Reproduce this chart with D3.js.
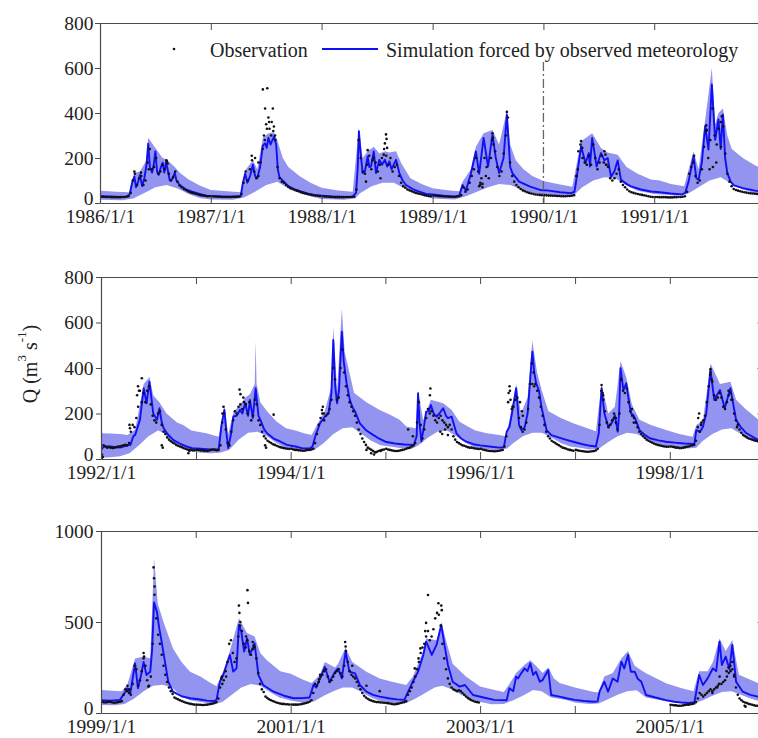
<!DOCTYPE html>
<html>
<head>
<meta charset="utf-8">
<script src="https://cdn.jsdelivr.net/npm/d3@7"></script>
<style>
  body { margin: 0; background: #fff; }
  svg { display: block; }
  svg text { font-family: "Liberation Serif", "Tinos", "Times New Roman", "DejaVu Serif", serif !important; fill: #222; }
</style>
</head>
<body>
<svg id="chart" width="758" height="738"></svg>
<script>
// ---------------- data ----------------
// time is given as decimal year (e.g. 1986.5 = early July 1986); discharge Q in m3/s

const yTicksA = [0, 200, 400, 600, 800];
const yTicksB = [0, 200, 400, 600, 800];
const yTicksC = [0, 500, 1000];

// simulation forced by observed meteorology, 1986-1991
const simA = [
[1986.00,30],[1986.08,29],[1986.16,27],[1986.24,28],[1986.27,40],[1986.29,90],[1986.31,118],[1986.325,70],[1986.345,95],[1986.36,125],[1986.38,75],[1986.40,110],[1986.42,170],[1986.435,264],[1986.45,160],[1986.47,135],[1986.485,170],[1986.50,229],[1986.515,140],[1986.53,125],[1986.55,160],[1986.565,179],[1986.58,135],[1986.595,180],[1986.61,150],[1986.63,100],[1986.65,105],[1986.675,135],[1986.69,100],[1986.72,80],[1986.77,62],[1986.83,50],[1986.90,40],[1986.96,33],
[1987.00,31],[1987.10,29],[1987.20,28],[1987.27,30],[1987.29,90],[1987.31,130],[1987.33,90],[1987.355,120],[1987.38,170],[1987.40,120],[1987.42,110],[1987.445,160],[1987.47,255],[1987.49,265],[1987.505,245],[1987.52,290],[1987.54,260],[1987.57,295],[1987.59,260],[1987.605,150],[1987.62,115],[1987.66,95],[1987.70,75],[1987.76,60],[1987.82,50],[1987.88,42],[1987.94,35],
[1988.00,33],[1988.10,29],[1988.20,27],[1988.28,28],[1988.31,45],[1988.325,150],[1988.336,319],[1988.35,230],[1988.37,133],[1988.39,140],[1988.415,207],[1988.43,160],[1988.445,162],[1988.47,229],[1988.49,133],[1988.52,192],[1988.545,170],[1988.57,192],[1988.59,162],[1988.61,185],[1988.63,150],[1988.67,192],[1988.70,133],[1988.73,100],[1988.76,80],[1988.82,62],[1988.88,51],[1988.94,40],
[1989.00,38],[1989.10,32],[1989.20,28],[1989.24,32],[1989.27,80],[1989.30,55],[1989.345,130],[1989.39,229],[1989.42,130],[1989.46,289],[1989.50,162],[1989.54,304],[1989.57,200],[1989.60,133],[1989.64,200],[1989.67,393],[1989.70,160],[1989.72,133],[1989.78,95],[1989.88,73],[1989.97,58],
[1990.05,55],[1990.15,48],[1990.25,44],[1990.28,50],[1990.29,80],[1990.31,147],[1990.34,252],[1990.38,177],[1990.41,222],[1990.42,162],[1990.44,289],[1990.48,162],[1990.52,222],[1990.55,190],[1990.58,200],[1990.61,117],[1990.64,140],[1990.67,189],[1990.70,103],[1990.75,85],[1990.79,74],[1990.88,60],[1990.97,51],
[1991.05,48],[1991.15,42],[1991.25,38],[1991.28,45],[1991.31,95],[1991.355,207],[1991.38,110],[1991.40,103],[1991.43,180],[1991.46,341],[1991.49,237],[1991.52,527],[1991.55,281],[1991.58,371],[1991.60,240],[1991.62,393],[1991.64,200],[1991.66,133],[1991.69,95],[1991.72,78],[1991.80,66],[1991.90,56],[1991.97,50],[1992.00,48]
];
// upper and lower edges of the simulation uncertainty band, 1986-1991
const hiA = [
[1986.00,55],[1986.15,50],[1986.26,48],[1986.31,135],[1986.36,140],[1986.42,190],[1986.435,290],[1986.50,245],[1986.565,200],[1986.60,195],[1986.675,160],[1986.72,135],[1986.80,105],[1986.90,78],
[1987.00,58],[1987.15,52],[1987.27,48],[1987.31,145],[1987.38,190],[1987.42,150],[1987.47,290],[1987.52,310],[1987.57,315],[1987.60,280],[1987.65,200],[1987.70,160],[1987.80,120],[1987.90,90],
[1988.00,68],[1988.15,56],[1988.28,50],[1988.336,335],[1988.37,200],[1988.415,230],[1988.47,250],[1988.52,220],[1988.57,230],[1988.61,225],[1988.67,230],[1988.72,175],[1988.80,110],[1988.90,85],
[1989.00,66],[1989.15,56],[1989.24,52],[1989.27,95],[1989.345,150],[1989.39,250],[1989.46,310],[1989.54,325],[1989.60,260],[1989.67,410],[1989.70,260],[1989.75,190],[1989.82,150],[1989.90,120],
[1990.00,98],[1990.15,82],[1990.26,72],[1990.34,275],[1990.44,310],[1990.52,245],[1990.58,225],[1990.67,215],[1990.75,160],[1990.85,130],[1990.97,105],
[1991.05,100],[1991.15,85],[1991.27,75],[1991.355,230],[1991.40,150],[1991.46,370],[1991.52,600],[1991.55,350],[1991.58,400],[1991.62,420],[1991.66,300],[1991.70,240],[1991.80,200],[1991.92,165],[1992.00,150]
];
const loA = [
[1986.00,14],[1986.20,12],[1986.30,20],[1986.40,45],[1986.50,70],[1986.60,80],[1986.70,65],[1986.80,40],[1986.90,22],
[1987.00,16],[1987.20,14],[1987.30,25],[1987.40,50],[1987.50,80],[1987.60,95],[1987.70,65],[1987.80,45],[1987.90,30],
[1988.00,18],[1988.20,14],[1988.30,20],[1988.35,45],[1988.45,75],[1988.55,90],[1988.65,90],[1988.75,65],[1988.85,40],
[1989.00,20],[1989.20,16],[1989.30,30],[1989.40,50],[1989.50,70],[1989.60,85],[1989.70,80],[1989.80,60],[1989.90,45],
[1990.00,36],[1990.15,30],[1990.27,32],[1990.35,70],[1990.45,100],[1990.55,115],[1990.65,110],[1990.75,78],[1990.85,55],
[1991.00,40],[1991.20,33],[1991.30,40],[1991.40,70],[1991.50,100],[1991.60,115],[1991.70,85],[1991.80,60],[1991.90,45],[1992.00,40]
];

// simulation, 1992-1998
const simB = [
[1992.00,40],[1992.03,55],[1992.10,55],[1992.20,50],[1992.28,60],[1992.31,62],[1992.34,100],[1992.36,106],[1992.41,172],[1992.45,311],[1992.48,245],[1992.51,340],[1992.55,200],[1992.59,172],[1992.615,223],[1992.64,160],[1992.66,135],[1992.70,110],[1992.76,84],[1992.83,68],[1992.90,55],[1992.96,48],
[1993.05,45],[1993.15,42],[1993.24,42],[1993.27,150],[1993.30,216],[1993.32,120],[1993.34,48],[1993.37,110],[1993.395,187],[1993.43,190],[1993.465,216],[1993.49,200],[1993.52,245],[1993.55,190],[1993.57,260],[1993.60,180],[1993.63,311],[1993.66,190],[1993.68,172],[1993.72,130],[1993.75,113],[1993.82,90],[1993.89,77],[1993.96,62],
[1994.05,55],[1994.12,48],[1994.20,46],[1994.23,55],[1994.26,100],[1994.31,157],[1994.36,186],[1994.40,200],[1994.43,290],[1994.45,523],[1994.47,320],[1994.49,245],[1994.51,300],[1994.54,560],[1994.56,430],[1994.59,333],[1994.625,259],[1994.65,230],[1994.68,208],[1994.73,157],[1994.80,125],[1994.87,106],[1994.94,88],
[1995.00,76],[1995.10,68],[1995.20,64],[1995.30,62],[1995.33,100],[1995.345,289],[1995.36,160],[1995.38,77],[1995.41,150],[1995.43,208],[1995.46,210],[1995.48,237],[1995.51,200],[1995.54,186],[1995.57,200],[1995.61,223],[1995.64,190],[1995.66,180],[1995.70,186],[1995.75,113],[1995.80,90],[1995.855,76],[1995.93,65],
[1996.00,60],[1996.10,55],[1996.20,50],[1996.25,52],[1996.28,120],[1996.31,142],[1996.335,200],[1996.38,311],[1996.41,150],[1996.435,127],[1996.47,140],[1996.50,200],[1996.55,472],[1996.57,380],[1996.59,333],[1996.62,300],[1996.645,230],[1996.70,127],[1996.75,105],[1996.80,98],[1996.90,85],[1996.98,76],
[1997.08,65],[1997.16,58],[1997.22,55],[1997.25,113],[1997.28,311],[1997.31,200],[1997.35,142],[1997.39,160],[1997.42,193],[1997.45,120],[1997.465,200],[1997.48,399],[1997.51,303],[1997.54,333],[1997.57,250],[1997.59,201],[1997.62,190],[1997.64,172],[1997.68,127],[1997.74,105],[1997.79,91],[1997.88,82],[1997.96,76],
[1998.05,72],[1998.15,68],[1998.26,66],[1998.28,127],[1998.32,120],[1998.35,142],[1998.385,201],[1998.43,391],[1998.47,259],[1998.53,303],[1998.58,223],[1998.64,311],[1998.70,172],[1998.75,140],[1998.81,113],[1998.93,84],[1999.00,78]
];
const hiB = [
[1992.00,113],[1992.10,112],[1992.20,110],[1992.28,105],[1992.36,130],[1992.45,330],[1992.51,360],[1992.55,280],[1992.615,250],[1992.69,200],[1992.80,160],[1992.87,148],[1992.95,125],
[1993.11,113],[1993.24,98],[1993.30,240],[1993.34,110],[1993.40,210],[1993.47,240],[1993.52,270],[1993.57,285],[1993.62,330],[1993.63,520],[1993.64,330],[1993.68,250],[1993.75,210],[1993.85,165],[1993.95,135],
[1994.05,125],[1994.15,112],[1994.22,105],[1994.31,175],[1994.36,210],[1994.43,320],[1994.45,580],[1994.49,300],[1994.54,660],[1994.57,470],[1994.62,380],[1994.67,290],[1994.80,250],[1994.94,215],
[1995.05,195],[1995.15,172],[1995.22,143],[1995.32,135],[1995.345,300],[1995.40,170],[1995.48,260],[1995.61,245],[1995.70,215],[1995.78,165],[1995.86,145],[1995.95,125],
[1996.07,113],[1996.20,105],[1996.27,100],[1996.31,170],[1996.38,330],[1996.43,200],[1996.50,270],[1996.55,520],[1996.60,380],[1996.65,300],[1996.72,210],[1996.85,180],[1996.98,157],
[1997.10,140],[1997.22,122],[1997.28,330],[1997.35,200],[1997.42,230],[1997.48,430],[1997.54,360],[1997.60,240],[1997.68,172],[1997.80,150],[1997.96,127],
[1998.10,110],[1998.24,98],[1998.28,150],[1998.35,170],[1998.43,420],[1998.53,330],[1998.64,340],[1998.70,260],[1998.80,220],[1998.93,175],[1999.00,165]
];
const loB = [
[1992.00,5],[1992.10,8],[1992.20,12],[1992.30,25],[1992.40,60],[1992.50,100],[1992.60,125],[1992.66,115],[1992.75,75],[1992.85,55],[1992.95,35],
[1993.05,28],[1993.15,25],[1993.25,28],[1993.35,40],[1993.45,85],[1993.55,115],[1993.65,120],[1993.75,100],[1993.85,70],[1993.95,48],
[1994.05,40],[1994.15,35],[1994.25,40],[1994.35,70],[1994.45,110],[1994.55,135],[1994.65,140],[1994.75,110],[1994.85,80],[1994.95,60],
[1995.05,55],[1995.15,48],[1995.28,45],[1995.35,60],[1995.45,95],[1995.55,120],[1995.65,125],[1995.75,100],[1995.85,70],[1995.95,50],
[1996.05,45],[1996.15,40],[1996.28,45],[1996.35,70],[1996.45,100],[1996.55,115],[1996.65,115],[1996.75,95],[1996.85,70],[1996.95,55],
[1997.05,50],[1997.15,42],[1997.25,45],[1997.35,75],[1997.45,100],[1997.55,115],[1997.65,110],[1997.75,90],[1997.85,70],[1997.95,55],
[1998.05,52],[1998.15,45],[1998.28,50],[1998.35,80],[1998.45,110],[1998.55,130],[1998.65,135],[1998.75,110],[1998.85,85],[1998.95,70],[1999.00,65]
];

// simulation, 1999-2005
const simC = [
[1999.00,70],[1999.10,68],[1999.20,72],[1999.235,99],[1999.28,136],[1999.31,110],[1999.36,273],[1999.39,136],[1999.42,200],[1999.45,280],[1999.48,209],[1999.52,227],[1999.54,350],[1999.56,608],[1999.59,557],[1999.615,465],[1999.64,392],[1999.675,282],[1999.71,172],[1999.76,117],[1999.85,92],[1999.94,81],
[2000.05,74],[2000.12,68],[2000.20,66],[2000.22,75],[2000.255,172],[2000.29,209],[2000.325,264],[2000.36,319],[2000.395,227],[2000.43,245],[2000.455,484],[2000.48,447],[2000.51,337],[2000.54,410],[2000.57,320],[2000.62,383],[2000.66,209],[2000.71,154],[2000.82,117],[2000.93,95],
[2001.03,81],[2001.12,82],[2001.20,85],[2001.24,154],[2001.27,140],[2001.31,190],[2001.36,254],[2001.41,172],[2001.44,200],[2001.47,227],[2001.50,245],[2001.54,190],[2001.58,337],[2001.62,227],[2001.68,218],[2001.73,154],[2001.80,117],[2001.87,100],[2001.94,90],
[2002.05,80],[2002.12,75],[2002.20,72],[2002.24,117],[2002.29,172],[2002.345,227],[2002.40,319],[2002.43,392],[2002.49,319],[2002.54,374],[2002.59,484],[2002.63,355],[2002.66,264],[2002.71,172],[2002.785,145],[2002.84,154],[2002.925,99],
[2003.07,81],[2003.15,72],[2003.28,70],[2003.31,136],[2003.35,120],[2003.38,200],[2003.40,190],[2003.43,215],[2003.47,245],[2003.50,230],[2003.53,273],[2003.56,209],[2003.59,227],[2003.63,172],[2003.66,181],[2003.72,236],[2003.75,99],[2003.84,90],[2003.91,81],
[2004.00,72],[2004.10,66],[2004.20,62],[2004.24,64],[2004.26,117],[2004.31,172],[2004.35,117],[2004.40,190],[2004.45,172],[2004.49,282],[2004.52,245],[2004.56,319],[2004.59,227],[2004.63,227],[2004.66,190],[2004.70,172],[2004.75,99],[2004.85,85],[2004.96,71],
[2005.05,62],[2005.12,58],[2005.20,55],[2005.26,60],[2005.28,117],[2005.31,209],[2005.35,154],[2005.40,190],[2005.455,245],[2005.49,230],[2005.525,392],[2005.55,264],[2005.59,310],[2005.63,240],[2005.66,374],[2005.70,172],[2005.77,117],[2005.85,100],[2005.93,90],[2006.00,85]
];
const hiC = [
[1999.00,126],[1999.12,122],[1999.22,120],[1999.28,160],[1999.36,300],[1999.45,310],[1999.52,300],[1999.56,850],[1999.60,600],[1999.66,500],[1999.76,355],[1999.85,280],[1999.94,227],
[2000.05,200],[2000.14,170],[2000.22,147],[2000.29,230],[2000.36,340],[2000.455,520],[2000.54,440],[2000.62,420],[2000.68,330],[2000.75,290],[2000.89,230],
[2001.00,215],[2001.12,185],[2001.22,165],[2001.31,210],[2001.36,280],[2001.47,250],[2001.50,270],[2001.58,360],[2001.65,280],[2001.80,227],[2001.94,190],
[2002.08,170],[2002.22,154],[2002.29,200],[2002.40,340],[2002.43,410],[2002.54,400],[2002.59,500],[2002.65,380],[2002.71,270],[2002.85,200],
[2003.00,145],[2003.12,130],[2003.25,115],[2003.31,160],[2003.38,220],[2003.47,265],[2003.53,290],[2003.59,260],[2003.66,220],[2003.72,250],[2003.78,190],[2003.84,165],
[2004.00,140],[2004.19,117],[2004.25,112],[2004.31,200],[2004.40,220],[2004.49,300],[2004.56,340],[2004.63,260],[2004.70,235],[2004.75,218],[2004.96,163],
[2005.10,140],[2005.25,120],[2005.31,230],[2005.40,230],[2005.455,280],[2005.525,410],[2005.59,340],[2005.66,400],[2005.73,210],[2005.93,165],[2006.00,160]
];
const loC = [
[1999.00,44],[1999.15,42],[1999.25,50],[1999.35,80],[1999.45,120],[1999.55,150],[1999.65,155],[1999.75,140],[1999.85,90],[1999.94,70],
[2000.05,60],[2000.12,55],[2000.18,45],[2000.28,60],[2000.38,100],[2000.48,140],[2000.58,160],[2000.68,150],[2000.78,115],[2000.88,85],
[2001.00,68],[2001.15,55],[2001.25,65],[2001.35,95],[2001.45,120],[2001.55,140],[2001.65,140],[2001.75,115],[2001.85,85],[2001.95,65],
[2002.05,58],[2002.12,50],[2002.22,55],[2002.32,80],[2002.42,110],[2002.52,140],[2002.60,150],[2002.70,130],[2002.80,100],[2002.90,75],
[2003.00,60],[2003.12,48],[2003.25,50],[2003.35,70],[2003.45,95],[2003.56,127],[2003.65,120],[2003.75,85],[2003.91,71],
[2004.00,58],[2004.15,50],[2004.25,52],[2004.35,75],[2004.45,100],[2004.55,120],[2004.65,125],[2004.75,85],[2004.85,75],[2004.95,65],
[2005.05,58],[2005.15,52],[2005.25,52],[2005.35,70],[2005.45,95],[2005.55,115],[2005.65,120],[2005.75,100],[2005.85,80],[2005.95,65],[2006.00,62]
];

// observed discharge, one value per week starting 1 January of each year
const obs1986 = [28,28,27,27,27,26,26,26,26,26,27,27,28,30,45,100,130,80,110,120,80,100,180,240,150,160,200,130,140,170,150,185,130,100,115,140,95,78,70,62,58,52,48,45,42,40,37,35,33,32,30,30];
const obs1987 = [30,29,29,28,28,27,27,27,27,27,28,28,28,29,40,90,140,100,150,190,140,110,120,180,240,280,330,360,300,320,280,160,110,95,90,80,72,66,62,58,55,52,48,45,42,40,38,36,34,33,32,31];
const obs1988 = [30,29,28,28,27,27,26,26,26,26,26,27,27,27,28,28,60,280,200,140,130,170,210,150,200,180,140,170,200,240,210,170,200,140,160,170,120,90,75,68,60,56,52,48,45,42,40,38,35,33,31,30];
const obs1989 = [33,32,31,30,30,29,29,28,28,28,28,29,30,35,70,50,60,90,120,150,200,140,80,70,200,160,110,200,290,230,160,120,140,220,300,380,180,120,95,80,70,62,56,52,48,45,42,40,38,37,36,35];
const obs1990 = [35,34,33,33,32,32,31,31,30,30,30,31,31,32,35,120,230,260,200,180,170,210,170,260,200,150,180,210,180,170,160,110,100,110,130,150,95,80,70,60,52,48,45,42,40,38,36,34,32,30,28,27];
const obs1991 = [27,27,26,26,26,26,25,25,25,26,26,27,27,28,30,50,130,160,180,120,90,100,150,250,320,200,280,420,300,260,330,250,340,220,130,95,75,62,58,55,52,50,48,46,44,43,42,41,40,39,38,37];
const obs1992 = [20,60,55,50,52,50,48,50,52,55,55,58,60,62,60,70,120,150,140,180,230,300,250,290,250,300,320,240,190,170,160,200,210,150,120,110,95,85,78,72,68,62,58,55,52,48,45,42,40,40,38,38];
const obs1993 = [40,40,38,38,36,36,35,38,40,42,40,38,40,60,160,200,130,70,60,120,170,210,200,230,240,220,250,240,200,250,170,190,260,240,170,150,120,100,90,80,75,70,65,62,58,55,52,50,48,46,45,44];
const obs1994 = [45,42,40,40,38,38,36,36,38,40,40,42,45,70,110,150,180,200,170,190,200,220,260,400,350,260,270,400,480,380,320,280,250,230,210,190,160,130,110,90,75,62,50,45,40,35,30,32,35,38,40,42];
const obs1995 = [45,42,40,38,36,35,35,36,38,40,42,45,48,50,55,60,70,160,250,150,90,130,180,220,200,210,190,170,160,180,190,170,160,150,140,150,130,100,85,75,70,65,60,58,55,52,50,50,48,46,45,44];
const obs1996 = [45,42,40,38,36,35,35,34,34,35,36,38,40,55,100,250,300,220,230,260,270,180,140,120,130,160,220,330,420,380,330,300,270,230,190,150,120,100,90,80,75,70,65,60,55,50,48,45,42,40,38,36];
const obs1997 = [40,38,36,35,34,33,32,32,33,34,35,38,45,150,300,280,210,160,140,150,170,200,180,130,200,350,300,290,310,250,210,190,180,160,140,120,110,100,92,85,80,76,72,68,65,62,60,58,56,55,54,54];
const obs1998 = [55,54,52,50,50,48,48,50,52,54,55,58,60,62,80,140,120,160,170,190,250,320,380,340,280,260,270,290,270,230,220,250,280,290,260,200,170,150,130,115,105,100,95,90,88,85,82,80,78,76,75,74];
const obs1999 = [62,60,58,60,62,60,58,56,58,60,62,65,100,130,120,110,100,160,260,240,150,180,230,300,260,180,150,200,380,650,520,430,380,320,260,210,170,140,120,105,85,80,75,70,66,62,58,55,52,50,48,46];
const obs2000 = [46,45,45,44,44,45,46,48,50,52,55,60,80,140,200,180,230,280,380,400,330,280,300,420,480,450,380,360,400,340,320,350,360,300,220,160,130,115,90,82,75,70,66,62,58,55,52,50,50,48,48,47];
const obs2001 = [47,46,46,46,47,48,50,52,55,58,62,70,110,160,150,170,200,210,230,240,200,170,180,200,220,230,240,220,200,260,340,280,230,210,200,190,170,150,130,110,95,85,78,72,68,65,62,60,60,58,58,56];
const obs2002 = [55,54,52,50,48,48,50,52,55,58,60,65,100,120,140,170,200,240,280,330,360,380,420,450,400,420,460,520,550,540,480,380,300,240,190,160,140,130,125,120,125,120,110,100,90,82,76,70,66,62,60,58];
const obs2005 = [45,44,42,42,40,40,40,42,44,45,46,48,50,52,60,80,110,100,90,100,110,120,130,120,130,140,150,200,160,170,180,200,220,230,240,200,140,100,80,70,62,58,55,50,48,45,42,40,40,38,38,36];

// additional scattered daily observations around flood peaks
const spikesA = [[1986.31,140],[1986.37,135],[1986.44,150],[1986.60,190],[1986.61,175],
[1987.47,505],[1987.51,510],[1987.49,420],[1987.52,380],[1987.55,360],[1987.50,350],[1987.48,300],[1987.53,330],[1987.57,340],[1987.40,200],[1987.37,210],[1987.43,180],[1987.56,420],[1987.58,300],
[1988.58,305],[1988.585,285],[1988.57,265],[1988.59,245],[1988.56,215],[1988.415,235],[1988.46,190],[1988.40,95],[1988.53,110],
[1989.42,75],[1989.43,90],[1989.44,110],[1989.45,85],[1989.48,120],[1989.54,310],[1989.535,280],[1989.55,260],[1989.67,405],
[1990.34,275],[1990.35,245],[1990.55,230],[1990.56,215],[1990.30,120],[1990.31,150],[1990.57,170],
[1991.36,210],[1991.47,345],[1991.475,325],[1991.61,385],[1991.60,360],[1991.50,150],[1991.53,160],[1991.56,180]];
const spikesB = [[1992.43,355],[1992.39,320],[1992.40,300],[1992.38,280],[1992.30,150],[1992.305,135],[1992.64,60],[1992.65,50],[1992.01,5],[1992.02,10],[1992.92,25],[1992.93,35],
[1993.46,305],[1993.47,285],[1993.50,270],[1993.82,195],[1993.29,230],[1993.28,200],[1993.73,60],[1993.74,50],
[1994.34,230],[1994.33,215],[1994.35,200],[1994.85,25],[1994.88,20],[1994.90,30],[1994.95,35],[1994.80,40],
[1995.475,310],[1995.47,280],[1995.58,120],[1995.60,110],[1995.63,130],[1995.66,105],[1995.24,130],[1995.29,100],
[1996.31,320],[1996.30,290],[1996.32,260],[1996.34,230],[1996.42,250],[1996.44,210],[1996.45,190],[1996.55,330],[1996.57,320],
[1997.28,325],[1997.29,290],[1997.30,260],[1997.41,180],[1997.43,160],[1997.60,220],[1997.62,160],
[1998.43,395],[1998.425,370],[1998.44,350],[1998.30,180],[1998.31,200],[1998.33,150],[1998.62,300],[1998.65,260],[1998.71,140]];
const spikesC = [[1999.555,800],[1999.56,740],[1999.565,695],[1999.45,330],[1999.455,310],[1999.50,145],[1999.28,150],[1999.30,130],
[2000.455,590],[2000.46,550],[2000.47,500],[2000.545,675],[2000.55,605],[2000.32,200],[2000.27,190],[2000.28,160],[2000.53,420],[2000.60,390],[2000.61,370],
[2001.575,390],[2001.58,365],[2001.31,210],[2001.30,185],[2001.65,260],[2001.80,150],[2001.94,120],
[2002.45,648],[2002.56,603],[2002.59,590],[2002.595,565],[2002.43,495],[2002.42,450],[2002.37,355],[2002.35,300],[2002.31,245],
[2005.60,230],[2005.62,250],[2005.64,260],[2005.66,280],[2005.68,210],[2005.52,160],[2005.50,140],[2005.45,110],[2005.79,40],[2005.80,35]];

const calibrationEnd = 1990.0;   // dash-dot separator in the first panel
const legendLabels = ["Observation", "Simulation forced by observed meteorology"];

// ---------------- drawing ----------------
const SERIF = '"Liberation Serif", "Tinos", "Times New Roman", "DejaVu Serif", serif';
const COLORS = { band: "#9393f0", sim: "#1010f5", obs: "#111", axis: "#4a4a4a", sep: "#666" };

function dec(t) {
  const yr = Math.floor(t + 1e-9);
  const a = new Date(yr, 0, 1), b = new Date(yr + 1, 0, 1);
  return new Date(+a + (t - yr) * (b - a));
}
function weekDate(year, i) { return new Date(year, 0, 1 + 7 * i + 3); }

const svg = d3.select("#chart").attr("font-family", SERIF);
const fmt = d3.timeFormat("%Y/%-m/%-d");

const panels = [
  { box: { left: 100, right: 765, top: 23, bottom: 203 }, years: [1986, 1992], yMax: 800, yTicks: yTicksA,
    sim: simA, hi: hiA, lo: loA, spikes: spikesA, labelStep: 1,
    obs: [[1986, obs1986], [1987, obs1987], [1988, obs1988], [1989, obs1989], [1990, obs1990], [1991, obs1991]] },
  { box: { left: 101, right: 764.5, top: 277, bottom: 459 }, years: [1992, 1999], yMax: 800, yTicks: yTicksB,
    sim: simB, hi: hiB, lo: loB, spikes: spikesB, labelStep: 2,
    obs: [[1992, obs1992], [1993, obs1993], [1994, obs1994], [1995, obs1995], [1996, obs1996], [1997, obs1997], [1998, obs1998]] },
  { box: { left: 101, right: 764.5, top: 531, bottom: 713 }, years: [1999, 2006], yMax: 1000, yTicks: yTicksC,
    sim: simC, hi: hiC, lo: loC, spikes: spikesC, labelStep: 2,
    obs: [[1999, obs1999], [2000, obs2000], [2001, obs2001], [2002, obs2002], [2005, obs2005]] }
];

panels.forEach((p, idx) => {
  const b = p.box;
  const x = d3.scaleTime().domain([new Date(p.years[0], 0, 1), new Date(p.years[1], 0, 1)]).range([b.left, b.right]);
  const y = d3.scaleLinear().domain([0, p.yMax]).range([b.bottom, b.top]);
  const g = svg.append("g");

  const clipId = "clip" + idx;
  svg.append("clipPath").attr("id", clipId).append("rect")
    .attr("x", b.left).attr("y", b.top).attr("width", b.right - b.left).attr("height", b.bottom - b.top);
  const plot = g.append("g").attr("clip-path", `url(#${clipId})`);

  // uncertainty band: upper edge forward, lower edge back
  const ring = p.hi.concat(p.lo.slice().reverse());
  const poly = d3.line().x(d => x(dec(d[0]))).y(d => y(d[1]));
  plot.append("path").attr("d", poly(ring) + "Z").attr("fill", COLORS.band).attr("stroke", "none");

  // simulated hydrograph
  plot.append("path").datum(p.sim)
    .attr("d", d3.line().x(d => x(dec(d[0]))).y(d => y(d[1])))
    .attr("fill", "none").attr("stroke", COLORS.sim).attr("stroke-width", 1.9).attr("stroke-linejoin", "round");

  // observations
  const pts = [];
  p.obs.forEach(([yr, vals]) => vals.forEach((q, i) => pts.push({ date: weekDate(yr, i), q })));
  p.spikes.forEach(d => pts.push({ date: dec(d[0]), q: d[1] }));
  plot.append("g").selectAll("circle").data(pts).join("circle")
    .attr("cx", d => x(d.date)).attr("cy", d => y(d.q)).attr("r", 1.3).attr("fill", COLORS.obs);

  // separator between calibration and validation periods
  if (idx === 0) {
    plot.append("line")
      .attr("x1", x(dec(calibrationEnd))).attr("x2", x(dec(calibrationEnd)))
      .attr("y1", 62).attr("y2", b.bottom)
      .attr("stroke", COLORS.sep).attr("stroke-width", 1.3).attr("stroke-dasharray", "9,3,2,3");
  }

  // axes: inward ticks on the time axes and the right side, short outward ticks on the left
  const yearTicks = d3.range(p.years[0], p.years[1]).map(yr => new Date(yr, 0, 1));
  const bottom = d3.axisBottom(x).tickValues(yearTicks).tickSize(-7).tickSizeOuter(0).tickPadding(6.5)
    .tickFormat(d => ((d.getFullYear() - p.years[0]) % p.labelStep === 0) ? fmt(d) : "");
  const top = d3.axisTop(x).tickValues(yearTicks).tickSize(-7).tickSizeOuter(0).tickFormat("");
  const left = d3.axisLeft(y).tickValues(p.yTicks).tickSize(5).tickSizeOuter(0)
    .tickPadding(idx === 0 ? 1.5 : 2.5).tickFormat(d3.format("d"));
  const right = d3.axisRight(y).tickValues(p.yTicks).tickSize(-7).tickSizeOuter(0).tickFormat("");

  const axes = [
    g.append("g").attr("transform", `translate(0,${b.bottom})`).call(bottom),
    g.append("g").attr("transform", `translate(0,${b.top})`).call(top),
    g.append("g").attr("transform", `translate(${b.left},0)`).call(left),
    g.append("g").attr("transform", `translate(${b.right},0)`).call(right)
  ];
  axes.forEach(a => {
    a.attr("font-family", SERIF);
    a.selectAll("path.domain").attr("stroke", COLORS.axis).attr("stroke-width", 1.2);
    a.selectAll(".tick line").attr("stroke", COLORS.axis).attr("stroke-width", 1);
    a.selectAll(".tick text").attr("fill", "#222").attr("font-family", SERIF).style("font-size", "19.5px");
  });
  // the zero label sits a little higher so it clears the date labels below the corner
  axes[2].selectAll(".tick text").filter(d => d === 0).attr("dy", "0.1em");

  // legend in the first panel
  if (idx === 0) {
    const lg = g.append("g").attr("font-family", SERIF);
    lg.append("circle").attr("cx", 174).attr("cy", 49).attr("r", 1.3).attr("fill", COLORS.obs);
    lg.append("text").attr("x", 210).attr("y", 57).style("font-size", "20px").text(legendLabels[0]);
    lg.append("line").attr("x1", 322).attr("x2", 378).attr("y1", 49).attr("y2", 49)
      .attr("stroke", COLORS.sim).attr("stroke-width", 2.2);
    lg.append("text").attr("x", 386).attr("y", 57).style("font-size", "20px").text(legendLabels[1]);
  }
});

// shared y-axis title
const yt = svg.append("text").attr("transform", "translate(37,364) rotate(-90)")
  .attr("text-anchor", "middle").attr("font-family", SERIF).style("font-size", "20px");
yt.append("tspan").text("Q (m");
yt.append("tspan").attr("dy", -11).style("font-size", "13px").text("3");
yt.append("tspan").attr("dy", 11).text(" s");
yt.append("tspan").attr("dy", -11).style("font-size", "13px").text("-1");
yt.append("tspan").attr("dy", 11).text(")");
</script>
</body>
</html>
